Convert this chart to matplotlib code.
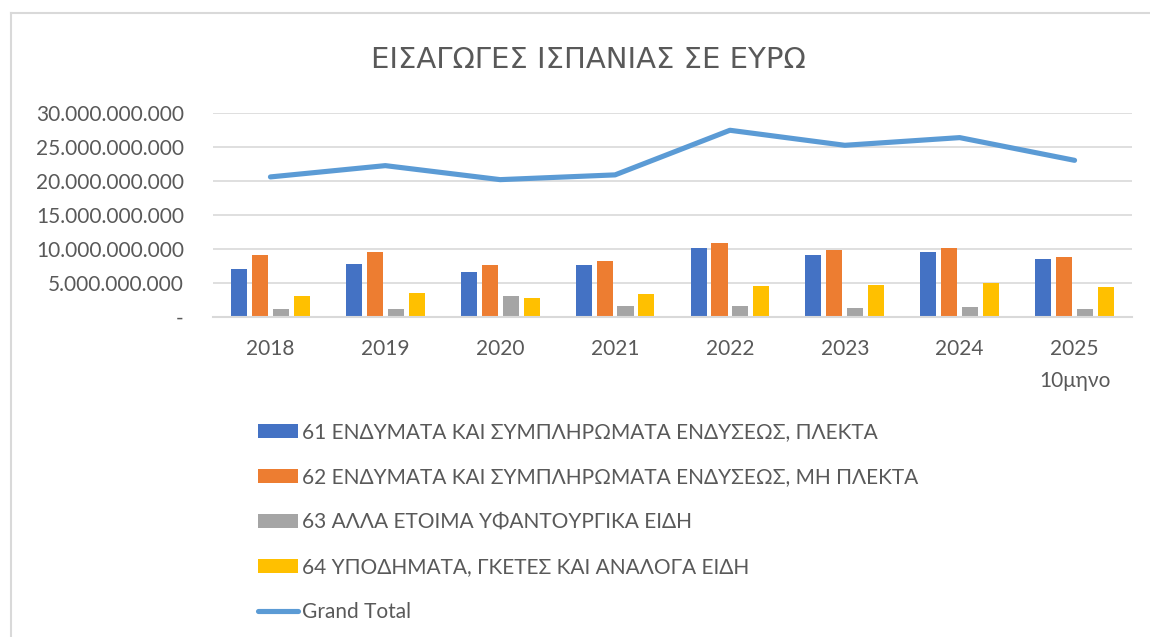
import matplotlib
matplotlib.use("Agg")
import matplotlib.pyplot as plt
import numpy as np
from matplotlib.lines import Line2D
from matplotlib.patches import Patch
from matplotlib.ticker import FuncFormatter

# data (EUR)
years = ["2018", "2019", "2020", "2021", "2022", "2023", "2024", "2025\n10μηνο"]
knitted = [7.12e9, 7.80e9, 6.57e9, 7.70e9, 10.15e9, 9.18e9, 9.62e9, 8.49e9]
not_knitted = [9.18e9, 9.56e9, 7.60e9, 8.19e9, 10.94e9, 9.90e9, 10.15e9, 8.78e9]
other_textiles = [1.13e9, 1.23e9, 3.09e9, 1.57e9, 1.57e9, 1.38e9, 1.43e9, 1.23e9]
footwear = [3.09e9, 3.48e9, 2.75e9, 3.34e9, 4.61e9, 4.66e9, 4.95e9, 4.47e9]
grand_total = [20.6e9, 22.26e9, 20.2e9, 20.9e9, 27.46e9, 25.25e9, 26.38e9, 23.04e9]

labels = [
    "61 ΕΝΔΥΜΑΤΑ ΚΑΙ ΣΥΜΠΛΗΡΩΜΑΤΑ ΕΝΔΥΣΕΩΣ, ΠΛΕΚΤΑ",
    "62 ΕΝΔΥΜΑΤΑ ΚΑΙ ΣΥΜΠΛΗΡΩΜΑΤΑ ΕΝΔΥΣΕΩΣ, ΜΗ ΠΛΕΚΤΑ",
    "63 ΑΛΛΑ ΕΤΟΙΜΑ ΥΦΑΝΤΟΥΡΓΙΚΑ ΕΙΔΗ",
    "64 ΥΠΟΔΗΜΑΤΑ, ΓΚΕΤΕΣ ΚΑΙ ΑΝΑΛΟΓΑ ΕΙΔΗ",
]
colors = ["#4472C4", "#ED7D31", "#A5A5A5", "#FFC000"]
line_color = "#5B9BD5"
text_color = "#595959"
grid_color = "#D9D9D9"

plt.rcParams['font.family'] = ['Lato', 'DejaVu Sans']

W, H = 1150, 637
fig = plt.figure(figsize=(W / 100, H / 100), dpi=100)
ax = fig.add_axes([213 / W, (H - 317) / H, (1132 - 213) / W, (317 - 113) / H])

x = np.arange(len(years))
slot = 0.182
bw = 0.14
series = [knitted, not_knitted, other_textiles, footwear]
for i, vals in enumerate(series):
    ax.bar(x + (i - 1.5) * slot, vals, width=bw, color=colors[i], zorder=2)

ax.plot(x, grand_total, color=line_color, lw=3.7, solid_capstyle="round",
        solid_joinstyle="round", zorder=3)

ax.set_xlim(-0.5, len(years) - 0.5)
ax.set_ylim(0, 30e9)
ax.set_yticks(np.arange(0, 30.1e9, 5e9))


def fmt(v, pos):
    if v == 0:
        return "-"
    return f"{v:,.0f}".replace(",", ".")


ax.yaxis.set_major_formatter(FuncFormatter(fmt))
ax.set_xticks(x)
ax.set_xticklabels(years, linespacing=1.75)
ax.tick_params(axis="y", length=0, pad=21, labelsize=15, labelcolor=text_color)
ax.tick_params(axis="x", length=0, pad=16, labelsize=15, labelcolor=text_color)
ax.grid(axis="y", color=grid_color, lw=1.2, zorder=0)
ax.set_axisbelow(True)
for s in ["top", "right", "left"]:
    ax.spines[s].set_visible(False)
ax.spines["bottom"].set_color(grid_color)
ax.spines["bottom"].set_linewidth(1.5)

fig.text(588 / W, 1 - 60 / H, "ΕΙΣΑΓΩΓΕΣ ΙΣΠΑΝΙΑΣ ΣΕ ΕΥΡΩ", ha="center", va="center",
         fontsize=21, color=text_color,
         family=['Liberation Sans Narrow', 'DejaVu Sans'])

handles = [Patch(facecolor=c) for c in colors]
handles.append(Line2D([0], [0], color=line_color, lw=3.7, solid_capstyle="round"))
leg = fig.legend(handles, labels + ["Grand Total"], loc="upper left",
                 bbox_to_anchor=(258 / W, 1 - 422 / H), frameon=False,
                 fontsize=15, labelcolor=text_color, handlelength=1.9,
                 handleheight=0.65, handletextpad=0.2, labelspacing=1.2,
                 borderpad=0, borderaxespad=0)

# outer chart border (top and left visible)
fig.add_artist(Line2D([11 / W, 1], [1 - 13 / H, 1 - 13 / H], color=grid_color, lw=1.5))
fig.add_artist(Line2D([11 / W, 11 / W], [0, 1 - 13 / H], color=grid_color, lw=1.5))

fig.savefig("out.png", dpi=100)
